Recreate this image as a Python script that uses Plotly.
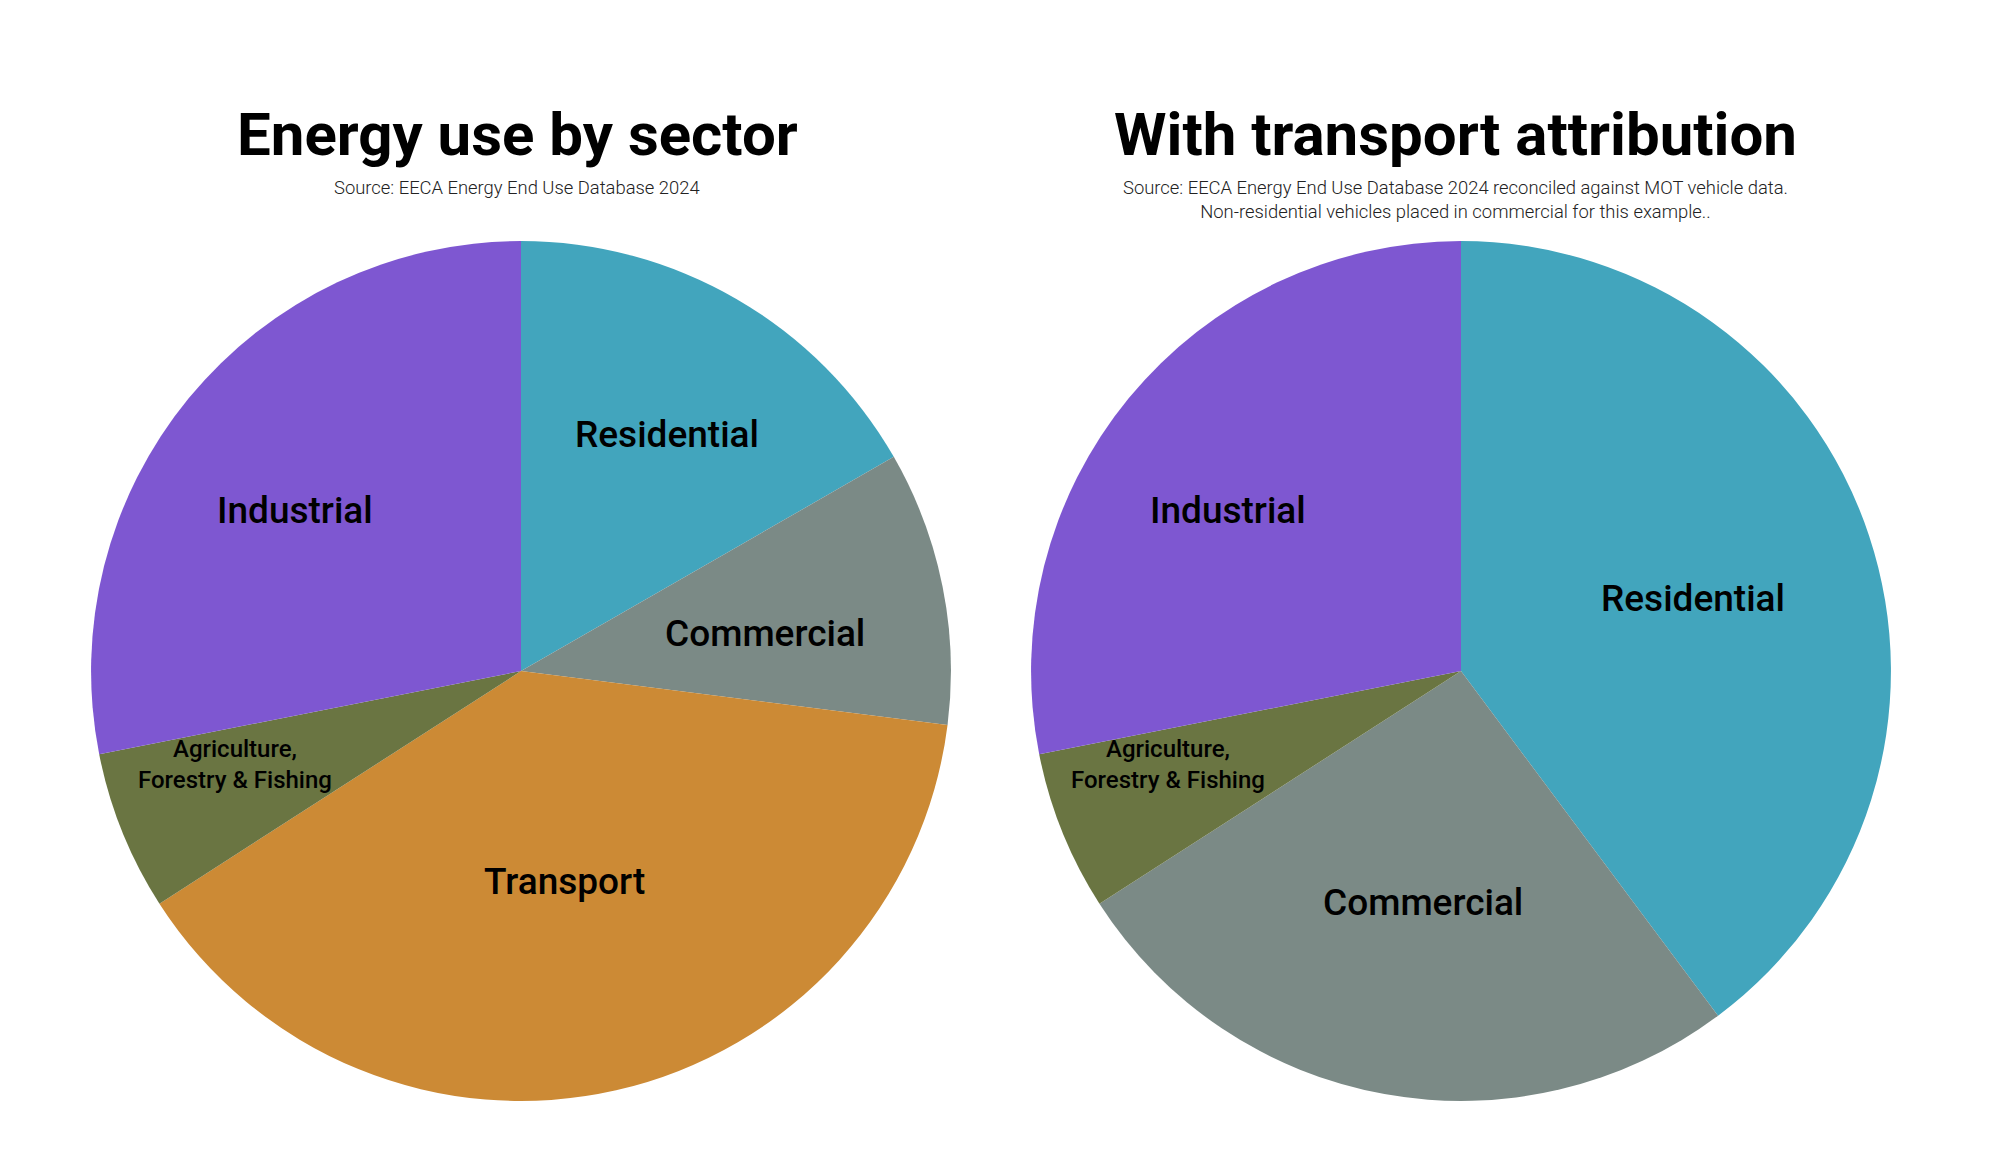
import plotly.graph_objects as go

sectors_left = ["Residential", "Commercial", "Transport", "Agriculture, Forestry & Fishing", "Industrial"]
share_left = [16.7, 10.3, 38.9, 6.0, 28.1]
colors_left = ["#42A5BD", "#7B8A86", "#CC8A35", "#6A7542", "#7E57D1"]

sectors_right = ["Residential", "Commercial", "Agriculture, Forestry & Fishing", "Industrial"]
share_right = [39.8, 26.1, 6.0, 28.1]
colors_right = ["#42A5BD", "#7B8A86", "#6A7542", "#7E57D1"]

titles = ["Energy use by sector", "With transport attribution"]
subtitles = [
    "Source: EECA Energy End Use Database 2024",
    "Source: EECA Energy End Use Database 2024 reconciled against MOT vehicle data.<br>Non-residential vehicles placed in commercial for this example..",
]

W, H = 2000, 1162
fig = go.Figure()
fig.add_trace(go.Pie(
    labels=sectors_left, values=share_left, sort=False, direction="clockwise", rotation=0,
    marker=dict(colors=colors_left, line=dict(width=0)), textinfo="none", hoverinfo="label+percent",
    domain=dict(x=[0.0455, 0.4755], y=[0.0525, 0.7925]), showlegend=False,
))
fig.add_trace(go.Pie(
    labels=sectors_right, values=share_right, sort=False, direction="clockwise", rotation=0,
    marker=dict(colors=colors_right, line=dict(width=0)), textinfo="none", hoverinfo="label+percent",
    domain=dict(x=[0.5155, 0.9455], y=[0.0525, 0.7925]), showlegend=False,
))

def px(x, y):
    return x / W, 1 - y / H

ann = []
# titles
for t, s, cx in [(titles[0], subtitles[0], 517), (titles[1], subtitles[1], 1455)]:
    x, y = px(cx, 134)
    ann.append(dict(text=f"<b>{t}</b>", x=x, y=y, xref="paper", yref="paper", showarrow=False,
                    xanchor="center", yanchor="middle",
                    font=dict(family="Roboto", size=60, color="#000000")))
    x, y = px(cx, 175)
    ann.append(dict(text=s, x=x, y=y, xref="paper", yref="paper", showarrow=False,
                    xanchor="center", yanchor="top",
                    font=dict(family="Roboto", size=18.4, color="#222222", weight=300)))

big = dict(family="Roboto", size=37, color="#000000", weight=500)
small = dict(family="Roboto", size=24, color="#000000", weight=500)

label_pos_left = {"Residential": (667, 434), "Commercial": (765, 633), "Transport": (564, 881),
                  "Industrial": (295, 510), "Agriculture, Forestry & Fishing": (235, 764)}
label_pos_right = {"Residential": (1693, 598), "Commercial": (1423, 902),
                   "Industrial": (1228, 510), "Agriculture, Forestry & Fishing": (1168, 764)}

for pos in (label_pos_left, label_pos_right):
    for name, (lx, ly) in pos.items():
        x, y = px(lx, ly)
        is_ag = name.startswith("Agriculture")
        text = "Agriculture,<br>Forestry & Fishing" if is_ag else name
        ann.append(dict(text=text, x=x, y=y, xref="paper", yref="paper", showarrow=False,
                        xanchor="center", yanchor="middle",
                        font=small if is_ag else big))

fig.update_layout(
    width=W, height=H, margin=dict(l=0, r=0, t=0, b=0),
    paper_bgcolor="#ffffff", plot_bgcolor="#ffffff",
    annotations=ann,
)
fig.write_html("out.html")
